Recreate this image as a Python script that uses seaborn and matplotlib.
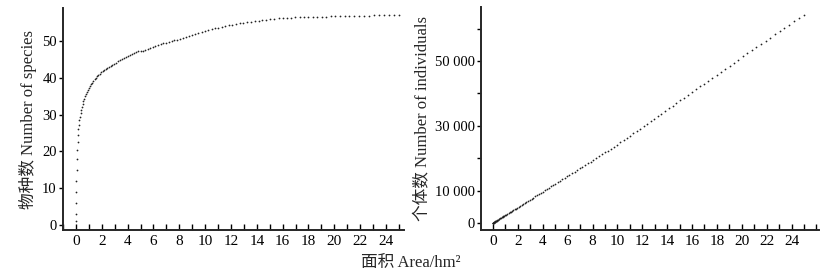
import numpy as np
import pandas as pd
import seaborn as sns
import matplotlib.pyplot as plt
from matplotlib.ticker import MultipleLocator, FixedLocator, FixedFormatter

# sampled areas (hm2), dense near 0 and sparser toward the full plot
area = [0.0016, 0.0064, 0.0144, 0.0256, 0.04, 0.0576, 0.0784, 0.1024, 0.1296, 0.16,
        0.1936, 0.2304, 0.2704, 0.3136, 0.36, 0.4096, 0.4624, 0.5184, 0.5776, 0.64,
        0.7056, 0.7744, 0.8464, 0.9216, 1.0, 1.0816, 1.1664, 1.2544, 1.3456, 1.44,
        1.5376, 1.6384, 1.7424, 1.8496, 1.96, 2.0736, 2.1904, 2.3104, 2.4336, 2.56,
        2.6896, 2.8224, 2.9584, 3.0976, 3.24, 3.3856, 3.5344, 3.6864, 3.8416, 4.0,
        4.1616, 4.3264, 4.4944, 4.6656, 4.84, 5.0176, 5.1984, 5.3824, 5.5696, 5.76,
        5.9536, 6.1504, 6.3504, 6.5536, 6.76, 6.9696, 7.1824, 7.3984, 7.6176, 7.84,
        8.0656, 8.2944, 8.5264, 8.7616, 9.0, 9.2416, 9.4864, 9.7344, 9.9856, 10.24,
        10.4976, 10.7584, 11.0224, 11.2896, 11.56, 11.8336, 12.1104, 12.3904, 12.6736, 12.96,
        13.2496, 13.5424, 13.8384, 14.1376, 14.44, 14.7456, 15.0544, 15.3664, 15.6816, 16.0,
        16.3216, 16.6464, 16.9744, 17.3056, 17.64, 17.9776, 18.3184, 18.6624, 19.0096, 19.36,
        19.7136, 20.0704, 20.4304, 20.7936, 21.16, 21.5296, 21.9024, 22.2784, 22.6576, 23.04,
        23.4256, 23.8144, 24.2064, 24.6016, 25.0]

species = [1, 3, 6, 9, 12, 15, 18, 20.5, 22.5, 24.5,
           26, 27.3, 28.5, 29.5, 30.5, 31.3, 32.1, 32.9, 33.6, 34.3,
           35, 35.6, 36.2, 36.7, 37.3, 37.8, 38.3, 38.7, 39.2, 39.6,
           40.0, 40.4, 40.8, 41.1, 41.5, 41.8, 42.1, 42.4, 42.7, 43.0,
           43.3, 43.6, 43.9, 44.2, 44.5, 44.8, 45.1, 45.4, 45.7, 46.0,
           46.2, 46.5, 46.7, 47.0, 47.2, 47.3, 47.4, 47.6, 47.8, 48.1,
           48.4, 48.7, 48.9, 49.2, 49.4, 49.6, 49.8, 50.0, 50.2, 50.4,
           50.7, 50.9, 51.2, 51.4, 51.7, 52.0, 52.3, 52.6, 52.9, 53.1,
           53.3, 53.5, 53.7, 53.9, 54.1, 54.3, 54.5, 54.7, 54.9, 55.0,
           55.2, 55.3, 55.5, 55.6, 55.7, 55.8, 56.0, 56.1, 56.2, 56.3,
           56.4, 56.4, 56.5, 56.5, 56.6, 56.6, 56.6, 56.7, 56.7, 56.7,
           56.8, 56.8, 56.8, 56.8, 56.9, 56.9, 56.9, 56.9, 56.9, 57.0,
           57.0, 57.0, 57.0, 57.0, 57.0]

individuals = [4, 15, 35, 62, 97, 139, 190, 248, 314, 387,
               469, 558, 654, 759, 871, 991, 1119, 1255, 1398, 1549,
               1708, 1874, 2048, 2230, 2420, 2617, 2823, 3036, 3256, 3485,
               3721, 3965, 4217, 4476, 4743, 5018, 5301, 5591, 5889, 6195,
               6509, 6830, 7159, 7496, 7841, 8193, 8553, 8921, 9297, 9680,
               10071, 10470, 10876, 11291, 11713, 12143, 12580, 13025, 13478, 13939,
               14408, 14884, 15368, 15860, 16359, 16866, 17381, 17904, 18435, 18973,
               19519, 20072, 20634, 21203, 21780, 22365, 22957, 23557, 24165, 24848,
               25544, 26248, 26960, 27682, 28412, 29151, 29898, 30654, 31419, 32192,
               32974, 33764, 34564, 35372, 36188, 37013, 37847, 38689, 39540, 40400,
               41268, 42145, 43031, 43925, 44828, 45740, 46660, 47588, 48526, 49472,
               50427, 51390, 52362, 53343, 54316, 55277, 56246, 57224, 58210, 59204,
               60207, 61217, 62237, 63264, 64300]

xticks = list(range(0, 25, 2))
ticks_species = [0, 10, 20, 30, 40, 50]
ticks_ind = [0, 10000, 20000, 30000, 40000, 50000, 60000]
labels_ind = ['0', '10 000', '', '30 000', '', '50 000', '']

df = pd.DataFrame({'area': area, 'species': species, 'individuals': individuals})

sns.set_style('ticks')
plt.rcParams['font.family'] = ['Liberation Serif', 'Noto Sans CJK SC']
plt.rcParams['axes.unicode_minus'] = False

fig = plt.figure(figsize=(8.38, 2.75), dpi=100)
ax1 = fig.add_axes([0.0752, 0.1636, 0.407, 0.807])
ax2 = fig.add_axes([0.574, 0.1636, 0.4033, 0.811])

sns.scatterplot(data=df, x='area', y='species', ax=ax1, color='#222222', s=1.6, linewidth=0)
sns.scatterplot(data=df, x='area', y='individuals', ax=ax2, color='#222222', s=1.6, linewidth=0)

for ax in (ax1, ax2):
    sns.despine(ax=ax)
    ax.spines['left'].set_linewidth(1.4)
    ax.spines['bottom'].set_linewidth(1.4)
    ax.set_xticks(xticks)
    ax.xaxis.set_minor_locator(MultipleLocator(1))
    ax.tick_params(axis='x', which='both', direction='in', length=4, width=1, labelsize=11, colors='black')
    ax.tick_params(axis='y', direction='out', length=3, width=1, pad=1.5, labelsize=10.5, colors='black')
    ax.set_xlabel('')

ax1.set_xlim(-1.0, 25.4)
ax1.set_ylim(-1.36, 59.0)
ax1.set_yticks(ticks_species)
ax1.set_ylabel('物种数 Number of species', fontsize=12)
ax1.yaxis.set_label_coords(-0.076, 0.5)

ax2.set_xlim(-0.96, 26.2)
ax2.set_ylim(-2160, 66670)
ax2.yaxis.set_major_locator(FixedLocator(ticks_ind))
ax2.yaxis.set_major_formatter(FixedFormatter(labels_ind))
ax2.set_ylabel('个体数 Number of individuals', fontsize=12)
ax2.yaxis.set_label_coords(-0.148, 0.5)

fig.text(0.49, 0.045, '面积 Area/hm²', ha='center', va='center', fontsize=12)

fig.savefig('out.png', dpi=100)
